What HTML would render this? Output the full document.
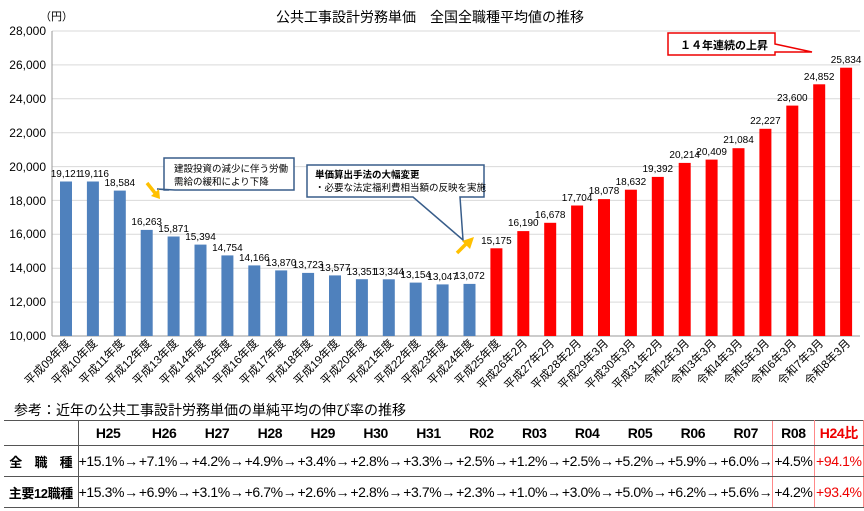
<!DOCTYPE html>
<html><head><meta charset="utf-8"><style>
body{margin:0;width:864px;height:511px;background:#fff;overflow:hidden;font-family:"Liberation Sans","Noto Sans CJK JP",sans-serif;position:relative}
svg{position:absolute;left:0;top:0}
table{position:absolute;left:4px;top:420px;border-collapse:collapse;font-size:14px;letter-spacing:-0.4px}
td{height:30px;padding:0;text-align:center;white-space:nowrap;border-top:1.5px solid #555;border-bottom:1.5px solid #555}
tr.h td{height:24px;font-weight:bold;font-size:14px}
td.f{width:76px;border-right:1px solid #555;font-weight:bold;font-size:13px}
td.c{width:53.2px;text-align:right}
td.r8{width:41px;border-left:1px solid #f88;border-right:1px solid #f88}
td.r9{width:49px;color:#e00;border-right:1px solid #f88}
</style></head><body>
<svg width="864" height="420" font-family="Liberation Sans, Noto Sans CJK JP, sans-serif">
<g stroke="#d9d9d9" stroke-width="1">
<line x1="52" x2="860" y1="31" y2="31"/><line x1="52" x2="860" y1="64.9" y2="64.9"/><line x1="52" x2="860" y1="98.8" y2="98.8"/><line x1="52" x2="860" y1="132.7" y2="132.7"/><line x1="52" x2="860" y1="166.6" y2="166.6"/><line x1="52" x2="860" y1="200.4" y2="200.4"/><line x1="52" x2="860" y1="234.3" y2="234.3"/><line x1="52" x2="860" y1="268.2" y2="268.2"/><line x1="52" x2="860" y1="302.1" y2="302.1"/>
</g>
<line x1="52" x2="52" y1="31" y2="336" stroke="#999"/>
<line x1="52" x2="860" y1="336" y2="336" stroke="#999"/>
<g font-size="12" text-anchor="end" fill="#000">
<text x="46" y="35">28,000</text><text x="46" y="69">26,000</text><text x="46" y="103">24,000</text><text x="46" y="137">22,000</text><text x="46" y="171">20,000</text><text x="46" y="205">18,000</text><text x="46" y="238">16,000</text><text x="46" y="272">14,000</text><text x="46" y="306">12,000</text><text x="46" y="340">10,000</text>
</g>
<text x="40" y="20" font-size="11">（円）</text>
<text x="430" y="22" font-size="14" text-anchor="middle">公共工事設計労務単価　全国全職種平均値の推移</text>
<g fill="#4f81bd">
<rect x="60" y="181.5" width="12" height="154.5"/><rect x="86.9" y="181.5" width="12" height="154.5"/><rect x="113.8" y="190.6" width="12" height="145.4"/><rect x="140.7" y="229.9" width="12" height="106.1"/><rect x="167.6" y="236.5" width="12" height="99.5"/><rect x="194.5" y="244.6" width="12" height="91.4"/><rect x="221.4" y="255.4" width="12" height="80.6"/><rect x="248.3" y="265.4" width="12" height="70.6"/><rect x="275.2" y="270.4" width="12" height="65.6"/><rect x="302.1" y="272.9" width="12" height="63.1"/><rect x="329" y="275.4" width="12" height="60.6"/><rect x="355.9" y="279.2" width="12" height="56.8"/><rect x="382.8" y="279.3" width="12" height="56.7"/><rect x="409.7" y="282.6" width="12" height="53.4"/><rect x="436.6" y="284.4" width="12" height="51.6"/><rect x="463.5" y="283.9" width="12" height="52.1"/>
</g>
<g fill="#ff0000">
<rect x="490.4" y="248.3" width="12" height="87.7"/><rect x="517.3" y="231.1" width="12" height="104.9"/><rect x="544.2" y="222.8" width="12" height="113.2"/><rect x="571.1" y="205.5" width="12" height="130.5"/><rect x="598" y="199.1" width="12" height="136.9"/><rect x="624.9" y="189.7" width="12" height="146.3"/><rect x="651.8" y="176.9" width="12" height="159.1"/><rect x="678.7" y="162.9" width="12" height="173.1"/><rect x="705.6" y="159.6" width="12" height="176.4"/><rect x="732.5" y="148.2" width="12" height="187.8"/><rect x="759.4" y="128.8" width="12" height="207.2"/><rect x="786.3" y="105.6" width="12" height="230.4"/><rect x="813.2" y="84.3" width="12" height="251.7"/><rect x="840.1" y="67.7" width="12" height="268.3"/>
</g>
<g font-size="10" text-anchor="middle" fill="#000">
<text x="66" y="177">19,121</text><text x="94" y="177">19,116</text><text x="119.8" y="186">18,584</text><text x="146.7" y="225">16,263</text><text x="173.6" y="232">15,871</text><text x="200.5" y="240">15,394</text><text x="227.4" y="251">14,754</text><text x="254.3" y="261">14,166</text><text x="281.2" y="266">13,870</text><text x="308.1" y="268">13,723</text><text x="335" y="271">13,577</text><text x="361.9" y="275">13,351</text><text x="388.8" y="275">13,344</text><text x="415.7" y="278">13,154</text><text x="442.6" y="280">13,047</text><text x="469.5" y="279">13,072</text><text x="496.4" y="244">15,175</text><text x="523.3" y="226">16,190</text><text x="550.2" y="218">16,678</text><text x="577.1" y="201">17,704</text><text x="604" y="194">18,078</text><text x="630.9" y="185">18,632</text><text x="657.8" y="172">19,392</text><text x="684.7" y="158">20,214</text><text x="711.6" y="155">20,409</text><text x="738.5" y="143">21,084</text><text x="765.4" y="124">22,227</text><text x="792.3" y="101">23,600</text><text x="819.2" y="80">24,852</text><text x="846.1" y="63">25,834</text>
</g>
<g font-size="11.5" text-anchor="end" fill="#000">
<text transform="translate(71,344) rotate(-45)">平成09年度</text><text transform="translate(98,344) rotate(-45)">平成10年度</text><text transform="translate(125,344) rotate(-45)">平成11年度</text><text transform="translate(152,344) rotate(-45)">平成12年度</text><text transform="translate(179,344) rotate(-45)">平成13年度</text><text transform="translate(206,344) rotate(-45)">平成14年度</text><text transform="translate(232,344) rotate(-45)">平成15年度</text><text transform="translate(259,344) rotate(-45)">平成16年度</text><text transform="translate(286,344) rotate(-45)">平成17年度</text><text transform="translate(313,344) rotate(-45)">平成18年度</text><text transform="translate(340,344) rotate(-45)">平成19年度</text><text transform="translate(367,344) rotate(-45)">平成20年度</text><text transform="translate(394,344) rotate(-45)">平成21年度</text><text transform="translate(421,344) rotate(-45)">平成22年度</text><text transform="translate(448,344) rotate(-45)">平成23年度</text><text transform="translate(474,344) rotate(-45)">平成24年度</text><text transform="translate(501,344) rotate(-45)">平成25年度</text><text transform="translate(528,344) rotate(-45)">平成26年2月</text><text transform="translate(555,344) rotate(-45)">平成27年2月</text><text transform="translate(582,344) rotate(-45)">平成28年2月</text><text transform="translate(609,344) rotate(-45)">平成29年3月</text><text transform="translate(636,344) rotate(-45)">平成30年3月</text><text transform="translate(663,344) rotate(-45)">平成31年2月</text><text transform="translate(690,344) rotate(-45)">令和2年3月</text><text transform="translate(717,344) rotate(-45)">令和3年3月</text><text transform="translate(743,344) rotate(-45)">令和4年3月</text><text transform="translate(770,344) rotate(-45)">令和5年3月</text><text transform="translate(797,344) rotate(-45)">令和6年3月</text><text transform="translate(824,344) rotate(-45)">令和7年3月</text><text transform="translate(851,344) rotate(-45)">令和8年3月</text>
</g>
<path d="M164,158 H294 V190 H175 L157,189 L169,190 H164 Z" fill="#fff" stroke="#385d8a" stroke-width="1.5"/>
<text x="174" y="172" font-size="9.5">建設投資の減少に伴う労働</text>
<text x="174" y="185" font-size="9.5">需給の緩和により下降</text>
<line x1="147" y1="183" x2="155" y2="193" stroke="#ffc000" stroke-width="3.5"/>
<path d="M151,196 L160,199 L159,189 Z" fill="#ffc000"/>
<path d="M307,165 H484 V197 H460 L463,240 L413,197 H307 Z" fill="#fff" stroke="#385d8a" stroke-width="1.5"/>
<text x="315" y="178" font-size="9.5" font-weight="bold">単価算出手法の大幅変更</text>
<text x="315" y="191" font-size="9.5">・必要な法定福利費相当額の反映を実施</text>
<line x1="457" y1="253" x2="467" y2="243" stroke="#ffc000" stroke-width="3.5"/>
<path d="M462,241 L474,237 L470,249 Z" fill="#ffc000"/>
<path d="M668,33 H775 V44 L812,52 L775,52 V55 H668 Z" fill="#fff" stroke="#e00" stroke-width="1.5"/>
<text x="680" y="49" font-size="11" font-weight="bold">１４年連続の上昇</text>
<text x="14" y="415" font-size="14" fill="#000">参考：近年の公共工事設計労務単価の単純平均の伸び率の推移</text>
</svg>
<table>
<tr class="h"><td class="f"></td><td class="c" style="text-align:center">H25</td><td class="c" style="text-align:center">H26</td><td class="c" style="text-align:center">H27</td><td class="c" style="text-align:center">H28</td><td class="c" style="text-align:center">H29</td><td class="c" style="text-align:center">H30</td><td class="c" style="text-align:center">H31</td><td class="c" style="text-align:center">R02</td><td class="c" style="text-align:center">R03</td><td class="c" style="text-align:center">R04</td><td class="c" style="text-align:center">R05</td><td class="c" style="text-align:center">R06</td><td class="c" style="text-align:center">R07</td><td class="r8">R08</td><td class="r9">H24比</td></tr>
<tr><td class="f">全　職　種</td><td class="c">+15.1%→</td><td class="c">+7.1%→</td><td class="c">+4.2%→</td><td class="c">+4.9%→</td><td class="c">+3.4%→</td><td class="c">+2.8%→</td><td class="c">+3.3%→</td><td class="c">+2.5%→</td><td class="c">+1.2%→</td><td class="c">+2.5%→</td><td class="c">+5.2%→</td><td class="c">+5.9%→</td><td class="c">+6.0%→</td><td class="r8">+4.5%</td><td class="r9">+94.1%</td></tr>
<tr><td class="f">主要12職種</td><td class="c">+15.3%→</td><td class="c">+6.9%→</td><td class="c">+3.1%→</td><td class="c">+6.7%→</td><td class="c">+2.6%→</td><td class="c">+2.8%→</td><td class="c">+3.7%→</td><td class="c">+2.3%→</td><td class="c">+1.0%→</td><td class="c">+3.0%→</td><td class="c">+5.0%→</td><td class="c">+6.2%→</td><td class="c">+5.6%→</td><td class="r8">+4.2%</td><td class="r9">+93.4%</td></tr>
</table>
</body></html>
